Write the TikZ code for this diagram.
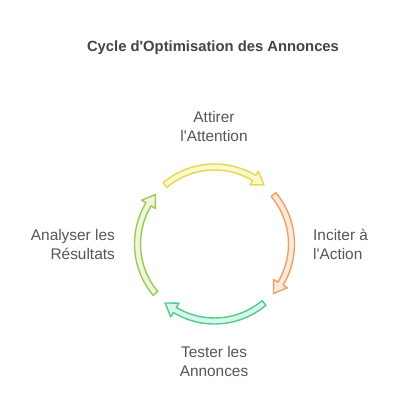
\documentclass[tikz,border=0pt]{standalone}
\usepackage{fontspec}
\setmainfont{Liberation Sans}[Ligatures=TeXOff]
\definecolor{titlec}{HTML}{444444}
\definecolor{labc}{HTML}{555555}
\definecolor{yel}{HTML}{E6D84A}\definecolor{yelf}{HTML}{FBF8CF}
\definecolor{ora}{HTML}{EBA066}\definecolor{oraf}{HTML}{FCE9DA}
\definecolor{grn}{HTML}{4FCB8E}\definecolor{grnf}{HTML}{D9F5E7}
\definecolor{lim}{HTML}{9DC951}\definecolor{limf}{HTML}{EEF6DD}
\tikzset{
  lab/.style={text=labc,font=\fontsize{15.4}{19}\selectfont,inner sep=0pt},
  ttl/.style={text=titlec,font=\bfseries\fontsize{14.8}{16}\selectfont,inner sep=0pt},
  arr/.style={line width=1.4pt,line join=round}
}
% #1 start angle, #2 tip angle, #3 draw colour, #4 fill colour
\newcommand{\cycarrow}[4]{%
  \pgfmathsetmacro{\hb}{#2+9}%
  \filldraw[arr,draw=#3,fill=#4]
    (#1:80) arc[start angle=#1,end angle=\hb,radius=80]
    -- (\hb:85) -- (#2:77) -- (\hb:69) -- (\hb:74)
    arc[start angle=\hb,end angle=#1,radius=74] -- cycle;}
\begin{document}
\begin{tikzpicture}[x=1pt,y=1pt]
\useasboundingbox (0,0) rectangle (400,419);
\node[ttl] (title) at (213,371.5) {Cycle d'Optimisation des Annonces};
\begin{scope}[shift={(214.5,175)}]
  \cycarrow{130}{50}{yel}{yelf}
  \cycarrow{40}{-40}{ora}{oraf}
  \cycarrow{-50}{-130}{grn}{grnf}
  \cycarrow{220}{140}{lim}{limf}
\end{scope}
\node[lab,align=center] (att) at (214,292.5) {Attirer\\l'Attention};
\node[lab,align=left,anchor=west] (inc) at (313,175) {Inciter à\\l'Action};
\node[lab,align=right,anchor=east] (ana) at (115,175) {Analyser les\\Résultats};
\node[lab,align=center] (tes) at (214,58) {Tester les\\Annonces};
\end{tikzpicture}
\end{document}
